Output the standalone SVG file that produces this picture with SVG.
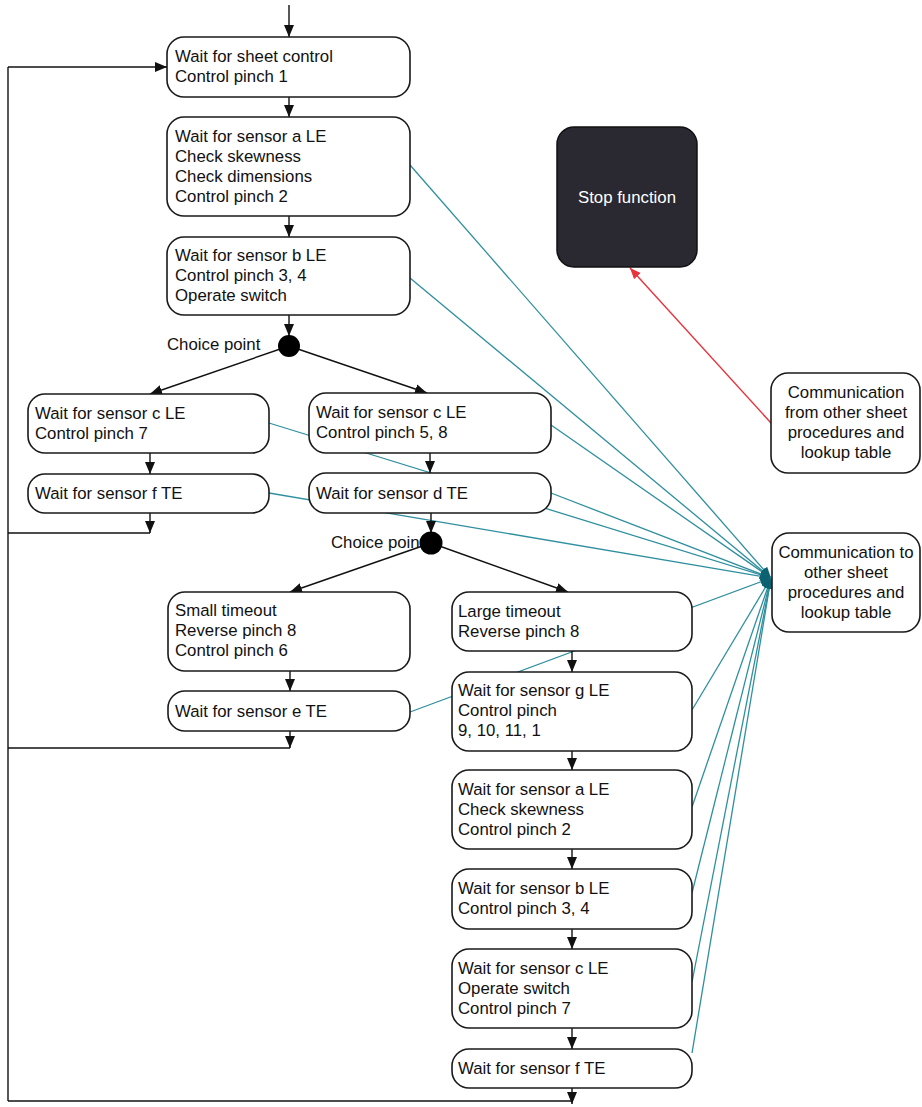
<svg xmlns="http://www.w3.org/2000/svg" width="922" height="1107" viewBox="0 0 922 1107">
<style>
.box{fill:#fff;stroke:#1a1a1a;stroke-width:1.6}
.t{font-family:"Liberation Sans",Arial,sans-serif;font-size:16.8px;fill:#111}
.c{text-anchor:middle}
.blk{stroke:#111;stroke-width:1.4;fill:none}
.teal{stroke:#2f8f9f;stroke-width:1.3;fill:none}
</style>
<defs>
<marker id="arr" markerUnits="userSpaceOnUse" markerWidth="13" markerHeight="11" refX="12" refY="5" orient="auto"><path d="M0,0 L12,5 L0,10 z" fill="#111"/></marker>
<marker id="tarr" markerUnits="userSpaceOnUse" markerWidth="12" markerHeight="10" refX="11" refY="4.5" orient="auto"><path d="M0,0 L11,4.5 L0,9 z" fill="#0d6272"/></marker>
<marker id="rarr" markerUnits="userSpaceOnUse" markerWidth="12" markerHeight="10" refX="11" refY="4.5" orient="auto"><path d="M0,0 L11,4.5 L0,9 z" fill="#e8323c"/></marker>
</defs>
<rect width="922" height="1107" fill="#fff"/>
<g id="connectors">
<g class="teal" marker-end="url(#tarr)">
<line x1="410" y1="165" x2="771" y2="578"/>
<line x1="410" y1="278" x2="771" y2="578"/>
<line x1="551" y1="425" x2="771" y2="578"/>
<line x1="269" y1="423" x2="771" y2="578"/>
<line x1="269" y1="493" x2="771" y2="578"/>
<line x1="551" y1="493" x2="771" y2="578"/>
<line x1="410" y1="712" x2="771" y2="578"/>
<line x1="692" y1="710" x2="771" y2="578"/>
<line x1="692" y1="807" x2="771" y2="578"/>
<line x1="692" y1="893" x2="771" y2="578"/>
<line x1="692" y1="982" x2="771" y2="578"/>
<line x1="692" y1="1053" x2="771" y2="578"/>
</g>
<line x1="771" y1="423" x2="630" y2="268" stroke="#e8323c" stroke-width="1.4" marker-end="url(#rarr)"/>
<g class="blk">
<polyline points="8,1101 572,1101"/>
<polyline points="8,1101 8,67"/>
<line x1="8" y1="67" x2="167" y2="67" marker-end="url(#arr)"/>
<line x1="289" y1="5" x2="289" y2="37" marker-end="url(#arr)"/>
<line x1="289" y1="97" x2="289" y2="117" marker-end="url(#arr)"/>
<line x1="289" y1="216" x2="289" y2="237" marker-end="url(#arr)"/>
<line x1="289" y1="315" x2="289" y2="336" marker-end="url(#arr)"/>
<line x1="289" y1="346" x2="150" y2="394" marker-end="url(#arr)"/>
<line x1="289" y1="346" x2="427" y2="393" marker-end="url(#arr)"/>
<line x1="150" y1="453" x2="150" y2="474" marker-end="url(#arr)"/>
<line x1="150" y1="513" x2="150" y2="533" marker-end="url(#arr)"/>
<polyline points="8,533 150,533"/>
<line x1="430" y1="453" x2="430" y2="473" marker-end="url(#arr)"/>
<line x1="431" y1="513" x2="431" y2="533" marker-end="url(#arr)"/>
<line x1="431" y1="543" x2="290" y2="592" marker-end="url(#arr)"/>
<line x1="431" y1="543" x2="568" y2="592" marker-end="url(#arr)"/>
<line x1="290" y1="671" x2="290" y2="691" marker-end="url(#arr)"/>
<line x1="290" y1="731" x2="290" y2="748" marker-end="url(#arr)"/>
<polyline points="8,748 290,748"/>
<line x1="572" y1="651" x2="572" y2="672" marker-end="url(#arr)"/>
<line x1="572" y1="751" x2="572" y2="770" marker-end="url(#arr)"/>
<line x1="572" y1="849" x2="572" y2="869" marker-end="url(#arr)"/>
<line x1="572" y1="929" x2="572" y2="949" marker-end="url(#arr)"/>
<line x1="572" y1="1028" x2="572" y2="1049" marker-end="url(#arr)"/>
<line x1="572" y1="1088" x2="572" y2="1104" marker-end="url(#arr)"/>
</g>
</g>
<g id="n1"><rect class="box" x="167" y="37" width="243" height="60" rx="17"/><text class="t"><tspan x="175" y="62">Wait for sheet control</tspan><tspan x="175" y="82">Control pinch 1</tspan></text></g>
<g id="n2"><rect class="box" x="167" y="117" width="243" height="99" rx="17"/><text class="t"><tspan x="175" y="142">Wait for sensor a LE</tspan><tspan x="175" y="162">Check skewness</tspan><tspan x="175" y="182">Check dimensions</tspan><tspan x="175" y="202">Control pinch 2</tspan></text></g>
<g id="n3"><rect class="box" x="167" y="237" width="243" height="78" rx="17"/><text class="t"><tspan x="175" y="261">Wait for sensor b LE</tspan><tspan x="175" y="281">Control pinch 3, 4</tspan><tspan x="175" y="301">Operate switch</tspan></text></g>
<g id="choice1"><text class="t" x="167" y="350">Choice point</text><circle cx="289" cy="346" r="11" fill="#000"/></g>
<g id="L1"><rect class="box" x="28" y="394" width="241" height="59" rx="17"/><text class="t"><tspan x="35" y="419">Wait for sensor c LE</tspan><tspan x="35" y="439">Control pinch 7</tspan></text></g>
<g id="L2"><rect class="box" x="28" y="474" width="241" height="39" rx="17"/><text class="t" x="35" y="499">Wait for sensor f TE</text></g>
<g id="R1"><rect class="box" x="309" y="393" width="242" height="60" rx="17"/><text class="t"><tspan x="316" y="418">Wait for sensor c LE</tspan><tspan x="316" y="438">Control pinch 5, 8</tspan></text></g>
<g id="R2"><rect class="box" x="309" y="473" width="242" height="40" rx="17"/><text class="t" x="316" y="499">Wait for sensor d TE</text></g>
<g id="choice2"><text class="t" x="331" y="548">Choice point</text><circle cx="431" cy="543" r="11.5" fill="#000"/></g>
<g id="small"><rect class="box" x="168" y="592" width="242" height="79" rx="17"/><text class="t"><tspan x="175" y="616">Small timeout</tspan><tspan x="175" y="636">Reverse pinch 8</tspan><tspan x="175" y="656">Control pinch 6</tspan></text></g>
<g id="eTE"><rect class="box" x="168" y="691" width="242" height="40" rx="17"/><text class="t" x="175" y="717">Wait for sensor e TE</text></g>
<g id="large"><rect class="box" x="452" y="592" width="240" height="59" rx="17"/><text class="t"><tspan x="458" y="617">Large timeout</tspan><tspan x="458" y="637">Reverse pinch 8</tspan></text></g>
<g id="gLE"><rect class="box" x="452" y="672" width="240" height="79" rx="17"/><text class="t"><tspan x="458" y="696">Wait for sensor g LE</tspan><tspan x="458" y="716">Control pinch</tspan><tspan x="458" y="736">9, 10, 11, 1</tspan></text></g>
<g id="aLE"><rect class="box" x="452" y="770" width="240" height="79" rx="17"/><text class="t"><tspan x="458" y="795">Wait for sensor a LE</tspan><tspan x="458" y="815">Check skewness</tspan><tspan x="458" y="835">Control pinch 2</tspan></text></g>
<g id="bLE"><rect class="box" x="452" y="869" width="240" height="60" rx="17"/><text class="t"><tspan x="458" y="894">Wait for sensor b LE</tspan><tspan x="458" y="914">Control pinch 3, 4</tspan></text></g>
<g id="cLE"><rect class="box" x="452" y="949" width="240" height="79" rx="17"/><text class="t"><tspan x="458" y="974">Wait for sensor c LE</tspan><tspan x="458" y="994">Operate switch</tspan><tspan x="458" y="1014">Control pinch 7</tspan></text></g>
<g id="fTE"><rect class="box" x="452" y="1049" width="240" height="39" rx="17"/><text class="t" x="458" y="1074">Wait for sensor f TE</text></g>
<g id="stop"><rect x="557" y="127" width="140" height="140" rx="17" fill="#2a2830" stroke="#111" stroke-width="1.5"/><text class="t c" x="627" y="203" style="fill:#fff">Stop function</text></g>
<g id="commFrom"><rect class="box" x="771" y="373" width="149" height="100" rx="17"/><text class="t c"><tspan x="846" y="398">Communication</tspan><tspan x="846" y="418">from other sheet</tspan><tspan x="846" y="438">procedures and</tspan><tspan x="846" y="458">lookup table</tspan></text></g>
<g id="commTo"><rect class="box" x="772" y="533" width="148" height="99" rx="17"/><text class="t c"><tspan x="846" y="558">Communication to</tspan><tspan x="846" y="578">other sheet</tspan><tspan x="846" y="598">procedures and</tspan><tspan x="846" y="618">lookup table</tspan></text></g>
</svg>
